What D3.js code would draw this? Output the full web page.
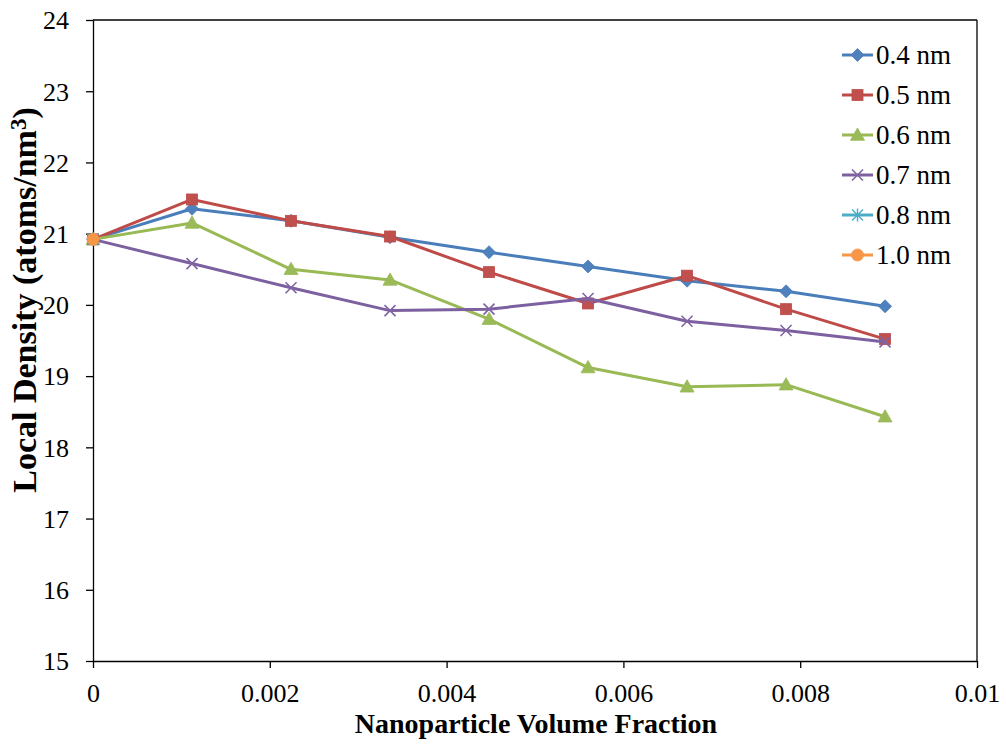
<!DOCTYPE html>
<html>
<head>
<meta charset="utf-8">
<script src="https://cdn.jsdelivr.net/npm/d3@7"></script>
<style>
  html, body { margin: 0; padding: 0; background: #fff; }
  svg { display: block; }
  text { font-family: "Liberation Serif", "Times New Roman", serif; fill: #000; }
</style>
</head>
<body>
<svg id="chart" width="1006" height="746"></svg>
<script>
// Nanoparticle volume fraction (x) and local density (atoms/nm^3) per cutoff radius
const volumeFraction = [0, 0.00112, 0.00224, 0.00336, 0.00448, 0.0056, 0.00672, 0.00784, 0.00896];
const density04 = [20.92, 21.35, 21.18, 20.95, 20.74, 20.54, 20.34, 20.19, 19.98];
const density05 = [20.92, 21.48, 21.18, 20.96, 20.46, 20.02, 20.41, 19.94, 19.52];
const density06 = [20.92, 21.15, 20.50, 20.35, 19.80, 19.12, 18.85, 18.88, 18.43];
const density07 = [20.92, 20.58, 20.24, 19.92, 19.94, 20.09, 19.77, 19.64, 19.48];
const density08 = [20.92];
const density10 = [20.92];
const seriesNames = ["0.4 nm", "0.5 nm", "0.6 nm", "0.7 nm", "0.8 nm", "1.0 nm"];
const xTicks = [0, 0.002, 0.004, 0.006, 0.008, 0.01];
const xTickLabels = ["0", "0.002", "0.004", "0.006", "0.008", "0.01"];
const yTicks = [15, 16, 17, 18, 19, 20, 21, 22, 23, 24];

const styles = [
  { line: "#4A7EBB", fill: "#4F81BD", marker: "diamond" },
  { line: "#BE4B48", fill: "#C0504D", marker: "square" },
  { line: "#98B954", fill: "#9BBB59", marker: "triangle" },
  { line: "#7D60A0", fill: "#8064A2", marker: "x" },
  { line: "#4BACC6", fill: "#4BACC6", marker: "asterisk" },
  { line: "#F79646", fill: "#F79646", marker: "circle" }
];
const allSeries = [density04, density05, density06, density07, density08, density10];

const svg = d3.select("#chart");
const plot = { left: 93, right: 977, top: 20, bottom: 661 };

const x = d3.scaleLinear().domain([0, 0.01]).range([plot.left, plot.right]);
const y = d3.scaleLinear().domain([15, 24]).range([plot.bottom, plot.top]);

// frame: top and right edges of the plot area
svg.append("line").attr("x1", plot.left).attr("x2", plot.right)
  .attr("y1", plot.top).attr("y2", plot.top).attr("stroke", "#000").attr("stroke-width", 1.3);
svg.append("line").attr("x1", plot.right).attr("x2", plot.right)
  .attr("y1", plot.top).attr("y2", plot.bottom).attr("stroke", "#000").attr("stroke-width", 1.3);

// axes
const yAxis = d3.axisLeft(y).tickValues(yTicks).tickFormat(d3.format("d"))
  .tickSize(7).tickSizeOuter(0).tickPadding(17);
const gy = svg.append("g").attr("transform", `translate(${plot.left},0)`).call(yAxis);
gy.selectAll("text").style("font-size", "26px").attr("dy", "0.34em");

const xAxis = d3.axisBottom(x).tickValues(xTicks).tickFormat((d, i) => xTickLabels[i])
  .tickSize(7).tickSizeOuter(0).tickPadding(16);
const gx = svg.append("g").attr("transform", `translate(0,${plot.bottom})`).call(xAxis);
gx.selectAll("text").style("font-size", "26px");

[gx, gy].forEach(g => {
  g.attr("font-family", null);
  g.select(".domain").attr("stroke", "#000").attr("stroke-width", 1.3);
  g.selectAll(".tick line").attr("stroke", "#000").attr("stroke-width", 1.3);
  g.selectAll("text").attr("fill", "#000").style("font-family", '"Liberation Serif", serif');
});

// axis titles
svg.append("text")
  .attr("x", 536).attr("y", 733)
  .attr("text-anchor", "middle")
  .style("font-size", "28px").style("font-weight", "bold")
  .text("Nanoparticle Volume Fraction");

const yTitle = svg.append("text")
  .attr("transform", "translate(36,300) rotate(-90)")
  .attr("text-anchor", "middle")
  .style("font-size", "34px").style("font-weight", "bold");
yTitle.append("tspan").text("Local Density (atoms/nm");
yTitle.append("tspan").attr("dy", "-0.45em").style("font-size", "23px").text("3");
yTitle.append("tspan").attr("dy", "0.3em").text(")");

// marker drawing
function drawMarker(g, type, cx, cy, st) {
  if (type === "diamond") {
    const s = 6.5;
    g.append("path").attr("d", `M${cx},${cy - s}L${cx + s},${cy}L${cx},${cy + s}L${cx - s},${cy}Z`)
      .attr("fill", st.fill).attr("stroke", st.line).attr("stroke-width", 0.8);
  } else if (type === "square") {
    const s = 5.5;
    g.append("rect").attr("x", cx - s).attr("y", cy - s).attr("width", 2 * s).attr("height", 2 * s)
      .attr("fill", st.fill).attr("stroke", st.line).attr("stroke-width", 0.8);
  } else if (type === "triangle") {
    const s = 7;
    g.append("path").attr("d", `M${cx},${cy - s}L${cx + s},${cy + s * 0.75}L${cx - s},${cy + s * 0.75}Z`)
      .attr("fill", st.fill).attr("stroke", st.line).attr("stroke-width", 0.8);
  } else if (type === "x") {
    const s = 5.5;
    g.append("path").attr("d", `M${cx - s},${cy - s}L${cx + s},${cy + s}M${cx - s},${cy + s}L${cx + s},${cy - s}`)
      .attr("stroke", st.fill).attr("stroke-width", 1.6).attr("fill", "none");
  } else if (type === "asterisk") {
    const s = 5.5;
    g.append("path").attr("d", `M${cx - s},${cy - s}L${cx + s},${cy + s}M${cx - s},${cy + s}L${cx + s},${cy - s}M${cx},${cy - s - 1}L${cx},${cy + s + 1}`)
      .attr("stroke", st.fill).attr("stroke-width", 1.4).attr("fill", "none");
  } else if (type === "circle") {
    g.append("circle").attr("cx", cx).attr("cy", cy).attr("r", 6)
      .attr("fill", st.fill).attr("stroke", st.line).attr("stroke-width", 0.8);
  }
}

// series lines and markers
const lineGen = d3.line().x((d, i) => x(volumeFraction[i])).y(d => y(d));
allSeries.forEach((vals, k) => {
  const st = styles[k];
  const g = svg.append("g");
  if (vals.length > 1) {
    g.append("path").datum(vals).attr("d", lineGen)
      .attr("fill", "none").attr("stroke", st.line).attr("stroke-width", 3)
      .attr("stroke-linejoin", "round");
  }
  vals.forEach((v, i) => drawMarker(g, st.marker, x(volumeFraction[i]), y(v), st));
});

// legend
const legend = svg.append("g");
seriesNames.forEach((name, k) => {
  const st = styles[k];
  const ly = 55 + k * 40;
  legend.append("line").attr("x1", 842).attr("x2", 873).attr("y1", ly).attr("y2", ly)
    .attr("stroke", st.line).attr("stroke-width", 3);
  drawMarker(legend, st.marker, 857.5, ly, st);
  legend.append("text").attr("x", 876).attr("y", ly).attr("dy", "0.35em")
    .style("font-size", "27px").text(name);
});
</script>
</body>
</html>
